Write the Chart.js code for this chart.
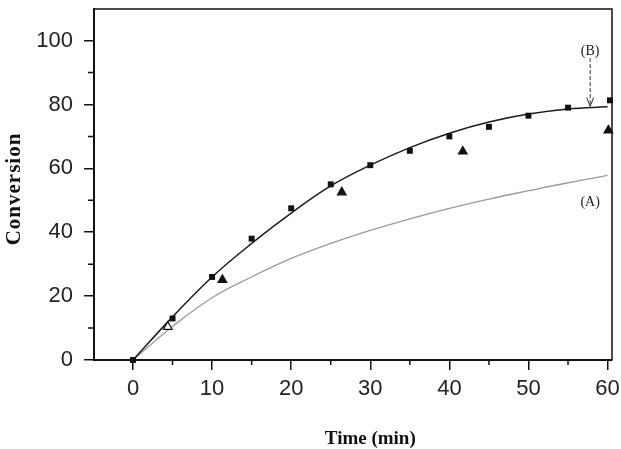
<!DOCTYPE html>
<html>
<head>
<meta charset="utf-8">
<script src="https://cdn.jsdelivr.net/npm/chart.js@4"></script>
<style>
html,body{margin:0;padding:0;background:#fff;}
#wrap{width:621px;height:449px;position:relative;}
</style>
</head>
<body>
<div id="wrap"><canvas id="c" width="621" height="449"></canvas></div>
<script>
// ---- data ----
const squareTime = [0, 5, 10, 15, 20, 25, 30, 35, 40, 45, 50, 55, 60.3];
const squareConv = [0, 13, 26, 38, 47.5, 55, 61, 65.5, 70, 73, 76.5, 79, 81.3];
const triangleTime = [4.4, 11.3, 26.4, 41.7, 60.1];
const triangleConv = [10.4, 25.1, 52.5, 65.3, 71.9];
const curveTime = [0, 5, 10, 15, 20, 25, 30, 35, 40, 45, 50, 55, 60];
const curveB = [0, 13.5, 26, 36.5, 46, 54.5, 61, 66.5, 71, 74.5, 77, 78.6, 79.3];
const curveA = [0, 10.5, 19.5, 26, 31.8, 36.5, 40.6, 44.2, 47.5, 50.4, 53, 55.5, 57.8];
const xMajorTicks = [0, 10, 20, 30, 40, 50, 60];
const xMinorTicks = [5, 15, 25, 35, 45, 55];
const yMajorTicks = [0, 20, 40, 60, 80, 100];
const yMinorTicks = [10, 30, 50, 70, 90];
const xTitle = 'Time (min)';
const yTitle = 'Conversion';
const labelA = '(A)';
const labelB = '(B)';

const pts = (xs, ys) => xs.map((x, i) => ({x: x, y: ys[i]}));

const decor = {
  id: 'decor',
  afterDraw(chart) {
    const ctx = chart.ctx;
    const xs = chart.scales.x, ys = chart.scales.y;
    const a = chart.chartArea;
    ctx.save();
    // frame
    ctx.strokeStyle = '#111';
    ctx.lineWidth = 1.5;
    ctx.beginPath();
    ctx.moveTo(a.left, a.top); ctx.lineTo(a.right, a.top); ctx.lineTo(a.right, a.bottom);
    ctx.stroke();
    // minor ticks
    ctx.lineWidth = 1.5;
    ctx.beginPath();
    xMinorTicks.forEach(v => { const p = xs.getPixelForValue(v); ctx.moveTo(p, a.bottom); ctx.lineTo(p, a.bottom + 5); });
    yMinorTicks.forEach(v => { const p = ys.getPixelForValue(v); ctx.moveTo(a.left, p); ctx.lineTo(a.left - 6, p); });
    ctx.stroke();
    // annotations
    ctx.fillStyle = '#222';
    ctx.font = '14px "Liberation Serif", "DejaVu Serif", serif';
    ctx.textAlign = 'center'; ctx.textBaseline = 'middle';
    const ax = xs.getPixelForValue(57.8);
    ctx.fillText(labelB, ax, ys.getPixelForValue(96.5));
    ctx.fillText(labelA, ax, ys.getPixelForValue(49.5));
    const yTop = ys.getPixelForValue(94.5), yBot = ys.getPixelForValue(79.4);
    ctx.strokeStyle = '#333'; ctx.lineWidth = 1;
    ctx.setLineDash([4, 2]);
    ctx.beginPath(); ctx.moveTo(ax, yTop); ctx.lineTo(ax, yBot - 2); ctx.stroke();
    ctx.setLineDash([]);
    ctx.beginPath();
    ctx.moveTo(ax - 3.5, yBot - 9); ctx.lineTo(ax, yBot); ctx.lineTo(ax + 3.5, yBot - 9);
    ctx.stroke();
    // axis titles
    ctx.fillStyle = '#111';
    ctx.font = 'bold 19px "Liberation Serif", "DejaVu Serif", serif';
    ctx.fillText(xTitle, (xs.getPixelForValue(0) + xs.getPixelForValue(60)) / 2, 439);
    ctx.save();
    ctx.translate(15, 189);
    ctx.rotate(-Math.PI / 2);
    ctx.font = 'bold 21px "Liberation Serif", "DejaVu Serif", serif';
    ctx.letterSpacing = '1px';
    ctx.fillText(yTitle, 0, 0);
    ctx.restore();
    ctx.restore();
  }
};

new Chart(document.getElementById('c'), {
  type: 'scatter',
  data: {
    datasets: [
      {
        type: 'line', label: 'B', data: pts(curveTime, curveB),
        borderColor: '#1a1a1a', borderWidth: 1.5, pointRadius: 0,
        tension: 0.4, fill: false, order: 3
      },
      {
        type: 'line', label: 'A', data: pts(curveTime, curveA),
        borderColor: '#9a9a9a', borderWidth: 1.3, pointRadius: 0,
        tension: 0.4, fill: false, order: 4
      },
      {
        label: 'squares', data: pts(squareTime, squareConv),
        pointStyle: 'rect', pointRadius: 4.2, backgroundColor: '#111', borderColor: '#111', borderWidth: 0,
        clip: false, order: 1
      },
      {
        label: 'triangles', data: pts(triangleTime, triangleConv),
        pointStyle: 'triangle', pointRadius: 5,
        backgroundColor: triangleTime.map((t, i) => i === 0 ? '#fff' : '#111'),
        borderColor: '#111', borderWidth: 1.2, clip: false, order: 0
      }
    ]
  },
  options: {
    responsive: false,
    animation: false,
    devicePixelRatio: 1,
    layout: { padding: { top: 9, right: 9, left: 0, bottom: 0 } },
    plugins: { legend: { display: false }, tooltip: { enabled: false } },
    scales: {
      x: {
        type: 'linear', min: -4.93, max: 60.56,
        afterFit: s => { s.height = 89; s.paddingLeft = 0; s.paddingRight = 0; },
        afterBuildTicks: s => { s.ticks = xMajorTicks.map(v => ({value: v})); },
        grid: { display: true, drawOnChartArea: false, drawTicks: true, tickLength: 10, color: '#111', lineWidth: 1.5 },
        border: { display: true, color: '#111', width: 2 },
        ticks: { font: { family: '"Liberation Sans", Arial, sans-serif', size: 22 }, color: '#222', padding: 6, maxRotation: 0, autoSkip: false }
      },
      y: {
        type: 'linear', min: 0, max: 109.9,
        afterFit: s => { s.width = 94; s.paddingTop = 0; s.paddingBottom = 0; },
        afterBuildTicks: s => { s.ticks = yMajorTicks.map(v => ({value: v})); },
        grid: { display: true, drawOnChartArea: false, drawTicks: true, tickLength: 10, color: '#111', lineWidth: 1.5 },
        border: { display: true, color: '#111', width: 2 },
        ticks: { font: { family: '"Liberation Sans", Arial, sans-serif', size: 22 }, color: '#222', padding: 11 }
      }
    }
  },
  plugins: [decor]
});
</script>
</body>
</html>
